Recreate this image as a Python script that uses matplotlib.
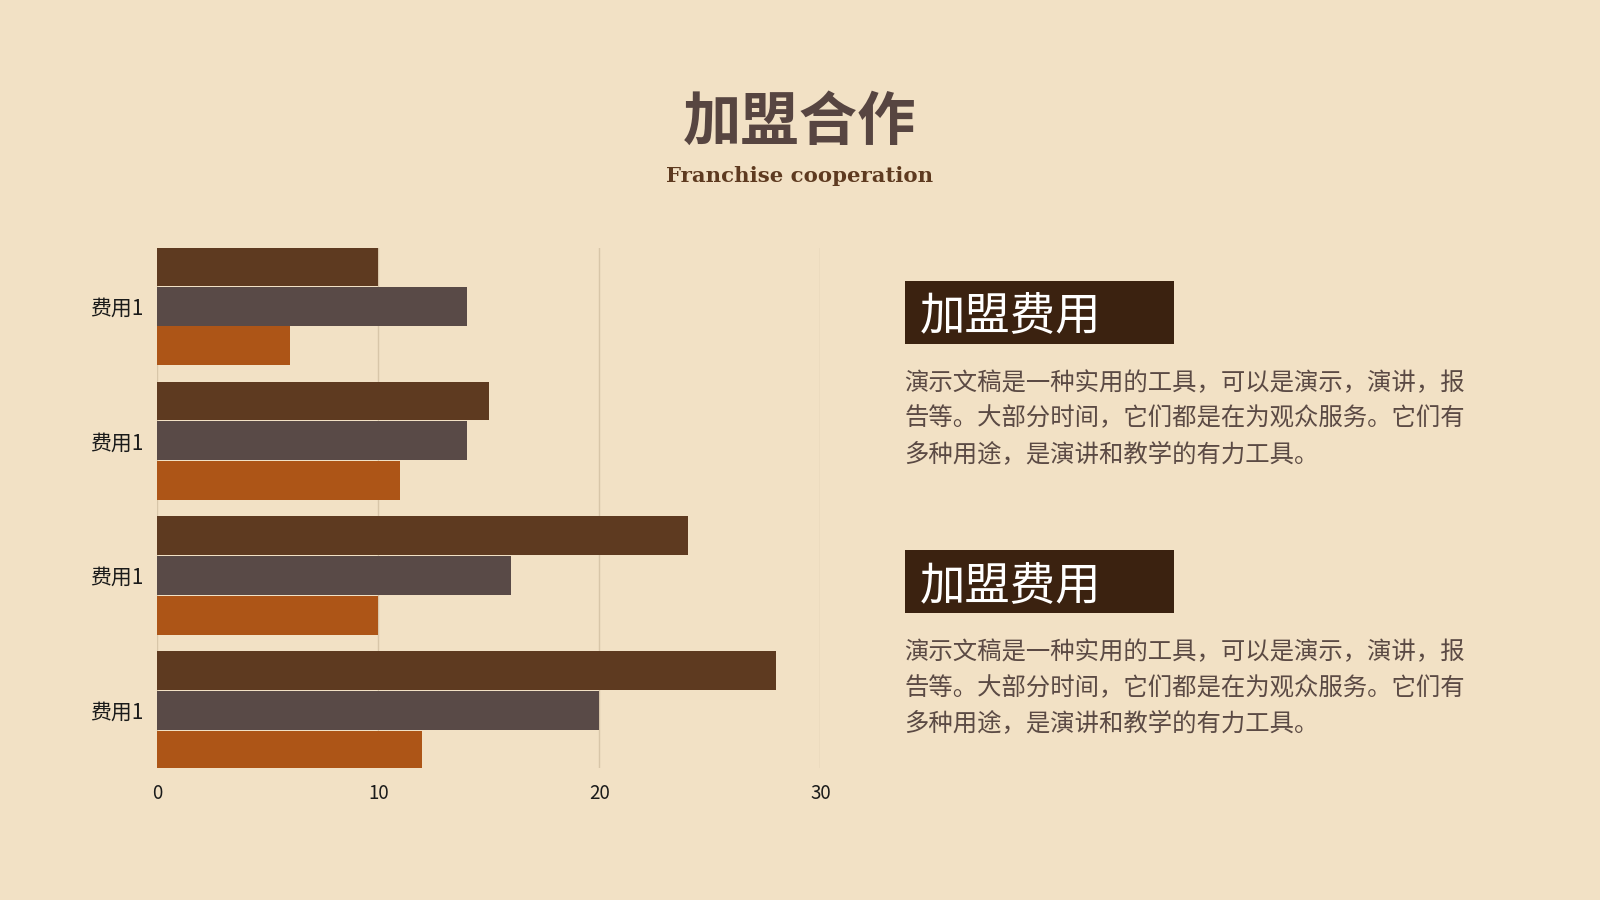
import matplotlib
matplotlib.use("Agg")
import matplotlib.pyplot as plt
from matplotlib.patches import Rectangle
import numpy as np

# ---- data ----
categories = ["费用1", "费用1", "费用1", "费用1"]
series_a = [10, 15, 24, 28]   # dark brown (top bar in each group)
series_b = [14, 14, 16, 20]   # grey-brown (middle bar)
series_c = [6, 11, 10, 12]    # orange (bottom bar)
x_ticks = [0, 10, 20, 30]

title = "加盟合作"
subtitle = "Franchise cooperation"
box_title = "加盟费用"
body_lines = ["演示文稿是一种实用的工具，可以是演示，演讲，报",
              "告等。大部分时间，它们都是在为观众服务。它们有",
              "多种用途，是演讲和教学的有力工具。"]

# ---- style ----
BG = "#f2e1c5"
C_A = "#5e3a20"
C_B = "#594a47"
C_C = "#ad5517"
GRID = "#d8c6a9"
TITLE_C = "#574541"
SUB_C = "#5e3a20"
BOX_C = "#3b2210"
BODY_C = "#5b4a44"

plt.rcParams['font.family'] = ['Noto Sans CJK SC', 'DejaVu Sans']

W, H = 1568.0, 882.0
def fx(px): return px / W
def fy(py): return 1 - py / H

fig = plt.figure(figsize=(16, 9), dpi=100, facecolor=BG)

ax = fig.add_axes([fx(154), fy(753), fx(804) - fx(154), fy(243) - fy(753)])
ax.set_facecolor(BG)

y = np.arange(len(categories))
h = 0.288
step = 0.295
for vals, col, off in [(series_a, C_A, -step), (series_b, C_B, 0), (series_c, C_C, step)]:
    ax.barh(y + off, vals, height=h, color=col, zorder=3, linewidth=0)

ax.set_xlim(0, 30)
ax.set_ylim(3 + 0.432, -0.432)
ax.set_xticks(x_ticks)
ax.set_xticklabels([str(t) for t in x_ticks], fontsize=13.5, color="#1a1a1a")
ax.set_yticks(y)
ax.set_yticklabels(categories, fontsize=15, color="#1a1a1a")
ax.tick_params(axis='both', length=0)
ax.tick_params(axis='x', pad=10.5)
ax.tick_params(axis='y', pad=10)
ax.grid(axis='x', color=GRID, linewidth=1.0, zorder=0)
ax.grid(axis='y', visible=False)
for s in ax.spines.values():
    s.set_visible(False)

# titles
fig.text(fx(784), fy(120), title, ha='center', va='center', fontsize=42,
         fontweight='bold', color=TITLE_C)
fig.text(fx(784), fy(172), subtitle, ha='center', va='center', fontsize=15.3,
         fontweight='bold', color=SUB_C, family=['DejaVu Serif'])

# right side panels
for top in (275, 539):
    fig.patches.append(Rectangle((fx(887), fy(top + 62)), fx(1151) - fx(887), fy(top) - fy(top + 62),
                                 transform=fig.transFigure, facecolor=BOX_C, edgecolor='none'))
    fig.text(fx(901), fy(top + 35), box_title, ha='left', va='center', fontsize=32.7,
             color='white')
    for i, line in enumerate(body_lines):
        fig.text(fx(886), fy(top + 100 + 35 * i), line, ha='left', va='center',
                 fontsize=17.55, color=BODY_C)

fig.savefig("out.png", dpi=100, facecolor=BG)
